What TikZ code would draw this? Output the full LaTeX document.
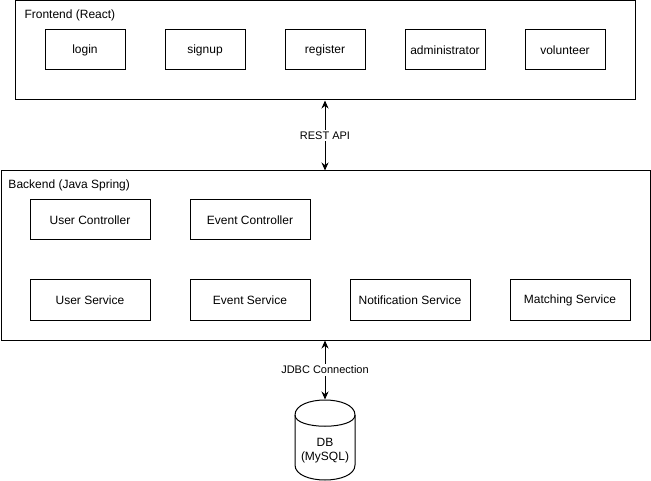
\documentclass[tikz,border=0pt]{standalone}
\usepackage{fontspec}
\setmainfont{Liberation Sans}
\usetikzlibrary{arrows.meta}
\begin{document}
\begin{tikzpicture}[x=1pt,y=-1pt,line width=1pt,
  box/.style={draw, minimum width=80pt, minimum height=40pt, inner sep=0pt, font=\fontsize{12}{14}\selectfont},
  wbox/.style={box, minimum width=120pt},
  container/.style={draw, inner sep=0pt},
  title/.style={anchor=west, inner sep=0pt, font=\fontsize{12}{14}\selectfont},
  lbl/.style={fill=white, inner sep=1.5pt, font=\fontsize{11}{13}\selectfont},
  arr/.style={{Stealth[length=8pt,width=7pt]}-{Stealth[length=8pt,width=7pt]}}]
\useasboundingbox (0,0) rectangle (651,481);
% Frontend
\node[container, minimum width=620pt, minimum height=99pt] (fe) at (325,50.5) {};
\node[title] (fet) at (24,15) {Frontend (React)};
\node[box] (login) at (85,50) {login};
\node[box] (signup) at (205,50) {signup};
\node[box] (register) at (325,50) {register};
\node[box] (admin) at (445,50) {administrator};
\node[box] (vol) at (565,50) {volunteer};
% Backend
\node[container, minimum width=649pt, minimum height=169pt] (be) at (325.5,255.5) {};
\node[title] (bet) at (8,185) {Backend (Java Spring)};
\node[wbox] (uc) at (90,220) {User Controller};
\node[wbox] (ec) at (250,220) {Event Controller};
\node[wbox] (us) at (90,300) {User Service};
\node[wbox] (es) at (250,300) {Event Service};
\node[wbox] (ns) at (410,300) {Notification Service};
\node[wbox] (ms) at (570,300) {Matching Service};
% DB
\node[minimum width=60pt, minimum height=80pt, inner sep=0pt] (db) at (325,440) {};
\draw (295,415) .. controls (295,395) and (355,395) .. (355,415) -- (355,465)
      .. controls (355,485) and (295,485) .. (295,465) -- cycle;
\draw (295,415) .. controls (295,430) and (355,430) .. (355,415);
\node[align=center, inner sep=0pt, font=\fontsize{12}{14}\selectfont] (dbt) at (325,451) {DB\\(MySQL)};
% connectors
\draw[arr] (fe.south) -- node[lbl] {REST API} (fe.south |- be.north);
\draw[arr] (be.south -| db.north) -- node[lbl] {JDBC Connection} (db.north);
\end{tikzpicture}
\end{document}
